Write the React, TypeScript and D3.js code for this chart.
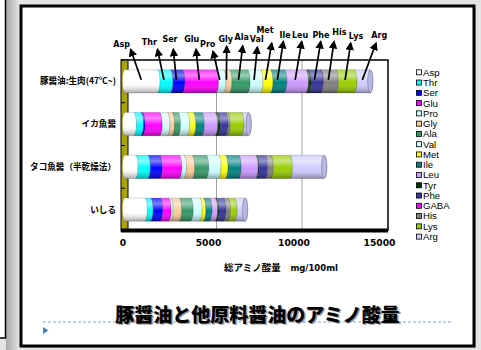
import React from 'react';
import * as d3 from 'd3';

const categories = ['豚醤油:生肉(47℃~)', 'イカ魚醤', 'タコ魚醤（半乾燥法）', 'いしる'];
const aminoAcids = ['Asp', 'Thr', 'Ser', 'Glu', 'Pro', 'Gly', 'Ala', 'Val', 'Met', 'Ile', 'Leu', 'Tyr', 'Phe', 'GABA', 'His', 'Lys', 'Arg'];
const acidColors = ['#FFFFFF', '#00FFFF', '#0000FF', '#FF00FF', '#CCFFFF', '#FFCC99', '#339966', '#CCFFFF', '#FFFF00', '#008080', '#CC99FF', '#003300', '#333399', '#FF00FF', '#808080', '#99CC00', '#CCCCFF'];
// values mg/100ml per amino acid (order as aminoAcids)
const butaValues = [1900, 755, 700, 1975, 425, 350, 1065, 755, 580, 815, 1260, 150, 700, 30, 870, 1085, 930];
const ikaValues = [520, 410, 100, 1000, 450, 270, 350, 545, 350, 500, 780, 150, 450, 0, 135, 800, 420];
const takoValues = [620, 715, 700, 1145, 270, 480, 825, 715, 405, 775, 990, 60, 495, 0, 335, 1115, 2005];
const ishiruValues = [1160, 335, 565, 495, 115, 495, 680, 525, 210, 360, 330, 85, 405, 0, 260, 390, 615];
const xTicks = [0, 5000, 10000, 15000];
// callout labels (acid, label center, arrow head)
const callouts: [string, number, number, number, number][] = [
  ['Asp', 121.7, 44.3, 130.7, 49.5],
  ['Thr', 149.3, 41.7, 157.5, 49.5],
  ['Ser', 170, 39.3, 173.3, 49.5],
  ['Glu', 191.7, 39.3, 196, 49.5],
  ['Pro', 207.7, 44.3, 213, 51.5],
  ['Gly', 225.7, 39.3, 226.7, 46.5],
  ['Ala', 241.7, 36.7, 242.7, 46],
  ['Val', 256.7, 39, 257.3, 47.3],
  ['Met', 265, 30, 271.7, 43.3],
  ['Ile', 285, 35, 283.3, 41.7],
  ['Leu', 300, 35, 301.7, 41.7],
  ['Phe', 321, 35, 320.7, 41.7],
  ['His', 339.3, 31.7, 334, 41.7],
  ['Lys', 356, 36, 350.7, 43.3],
  ['Arg', 379.3, 35, 376, 43.3],
];

const seriesByCat = [butaValues, ikaValues, takoValues, ishiruValues];

export default function App() {
  const x = d3.scaleLinear().domain([0, 15000]).range([125, 381.5]);
  const y = d3.scaleBand<string>().domain(categories).range([60, 231]).paddingInner(0.46).paddingOuter(0.23);
  const rows = categories.map((c, i) => {
    const r: any = { cat: c };
    aminoAcids.forEach((a, j) => (r[a] = seriesByCat[i][j]));
    return r;
  });
  const stacked = d3.stack().keys(aminoAcids)(rows);
  const bw = y.bandwidth();
  const rx = 2.6;
  const ry = bw / 2;
  const step = y.step();
  const top = 60, bottom = 231;
  const lab = '"DejaVu Sans", Verdana, sans-serif';
  const jp = '"Noto Sans CJK JP", sans-serif';

  const segPath = (x0: number, x1: number, y0: number, first: boolean) => {
    const y1 = y0 + bw;
    return `M${x0},${y0} L${x1},${y0} A${rx},${ry} 0 0 1 ${x1},${y1} L${x0},${y1} A${rx},${ry} 0 0 ${first ? 1 : 0} ${x0},${y0} Z`;
  };

  return (
    <svg width={481} height={350} style={{ position: 'absolute', left: 0, top: 0 }}>
      <defs>
        <linearGradient id="shade" x1="0" y1="0" x2="0" y2="1">
          <stop offset="0" stopColor="#fff" stopOpacity={0.25} />
          <stop offset="0.25" stopColor="#fff" stopOpacity={0.5} />
          <stop offset="0.55" stopColor="#fff" stopOpacity={0} />
          <stop offset="1" stopColor="#000" stopOpacity={0.35} />
        </linearGradient>
        <linearGradient id="leftStrip" x1="0" y1="0" x2="1" y2="0">
          <stop offset="0" stopColor="#a8a8a8" />
          <stop offset="1" stopColor="#e8e8e8" />
        </linearGradient>
        <marker id="arr" viewBox="0 0 10 10" refX="8" refY="5" markerWidth="5" markerHeight="5" orient="auto-start-reverse">
          <path d="M0,0 L10,5 L0,10 z" fill="#000" />
        </marker>
      </defs>
      {/* background */}
      <rect x={0} y={0} width={481} height={350} fill="#e4e4e4" />
      <rect x={6} y={0} width={14} height={350} fill="url(#leftStrip)" />
      <rect x={-10} y={-10} width={15.5} height={348} fill="#fff" stroke="#000" strokeWidth={1.5} />
      <rect x={23} y={8} width={453} height={340} fill="#bbb" />
      <rect x={21} y={6} width={453} height={340} fill="#fff" stroke="#000" strokeWidth={3} />

      {/* back wall frame & gridlines */}
      {xTicks.slice(1, 3).map(t => (
        <line key={t} x1={x(t) + 6} x2={x(t) + 6} y1={top} y2={bottom - 2} stroke="#a0a0a0" strokeWidth={1} />
      ))}
      <polyline points={`121,${top} 388,${top} 388,${bottom}`} fill="none" stroke="#000" strokeWidth={1.5} />
      {/* left wall */}
      <rect x={121} y={top} width={7} height={bottom - top} fill="#a8a400" stroke="#000" strokeWidth={1} />
      {/* floor */}
      <rect x={121} y={bottom - 2.5} width={267} height={4} fill="#000" />
      {d3.range(5).map(i => (
        <line key={i} x1={121} x2={125} y1={top + i * step} y2={top + i * step} stroke="#000" strokeWidth={1} />
      ))}

      {/* bars */}
      {categories.map((c, ci) => {
        const y0 = y(c)!;
        const segs = stacked.map((s, si) => ({ x0: x(s[ci][0]), x1: x(s[ci][1]), color: acidColors[si], si }));
        const last = segs[segs.length - 1];
        return (
          <g key={c}>
            {segs.map(sg => sg.x1 - sg.x0 > 0.01 ? (
              <g key={sg.si}>
                <path d={segPath(sg.x0, sg.x1, y0, sg.si === 0)} fill={sg.color} stroke="rgba(0,0,0,0.35)" strokeWidth={0.5} />
                <path d={segPath(sg.x0, sg.x1, y0, sg.si === 0)} fill="url(#shade)" />
              </g>
            ) : null)}
            <ellipse cx={last.x1} cy={y0 + ry} rx={rx} ry={ry} fill="#b8b8e8" stroke="#777" strokeWidth={0.6} />
          </g>
        );
      })}

      {/* category labels */}
      {categories.map(c => (
        <text key={c} x={116} y={y(c)! + bw / 2 + 3} textAnchor="end" fontFamily={jp} fontWeight="bold" fontSize={8.6} fill="#000">{c}</text>
      ))}

      {/* x tick labels */}
      {xTicks.map(t => (
        <text key={t} x={x(t) - 2} y={246} textAnchor="middle" fontFamily={lab} fontWeight="bold" fontSize={9.2} fill="#000">{t}</text>
      ))}
      <text x={281} y={271} textAnchor="middle" fontFamily={jp} fontWeight="bold" fontSize={9.5} fill="#000">
        総アミノ酸量　<tspan fontFamily={lab} fontSize={8.5}>mg/100ml</tspan>
      </text>

      {/* callouts */}
      {callouts.map(([name, lx, ly, hx, hy]) => {
        const si = aminoAcids.indexOf(name);
        const seg = stacked[si][0];
        const tx = (x(seg[0]) + x(seg[1])) / 2;
        const ty = y(categories[0])! + 10;
        return (
          <g key={name}>
            <line x1={tx} y1={ty} x2={hx} y2={hy} stroke="#000" strokeWidth={1.7} markerEnd="url(#arr)" />
            <text x={lx} y={ly + 3} textAnchor="middle" fontFamily={lab} fontWeight="bold" fontSize={8} fill="#000">{name}</text>
          </g>
        );
      })}

      {/* legend */}
      {aminoAcids.map((a, i) => {
        const ly = 72.3 + i * 10.27;
        return (
          <g key={a}>
            <rect x={416.5} y={ly - 2.5} width={5} height={5} fill={acidColors[i]} stroke="#000" strokeWidth={0.8} />
            <text x={423} y={ly + 3.4} fontFamily='"Liberation Sans", Arial, sans-serif' fontSize={9.6} fill="#000">{a}</text>
          </g>
        );
      })}

      {/* title */}
      <line x1={43} x2={452} y1={322} y2={322} stroke="#7aa6dc" strokeWidth={1} strokeDasharray="3,2" />
      <path d="M43,327 L48.5,330.5 L43,334 Z" fill="#4a7ebb" />
      <text x={259} y={323} textAnchor="middle" fontFamily={jp} fontWeight={900} fontSize={19} fill="#999">豚醤油と他原料醤油のアミノ酸量</text>
      <text x={257.5} y={321.5} textAnchor="middle" fontFamily={jp} fontWeight={900} fontSize={19} fill="#000">豚醤油と他原料醤油のアミノ酸量</text>
    </svg>
  );
}
